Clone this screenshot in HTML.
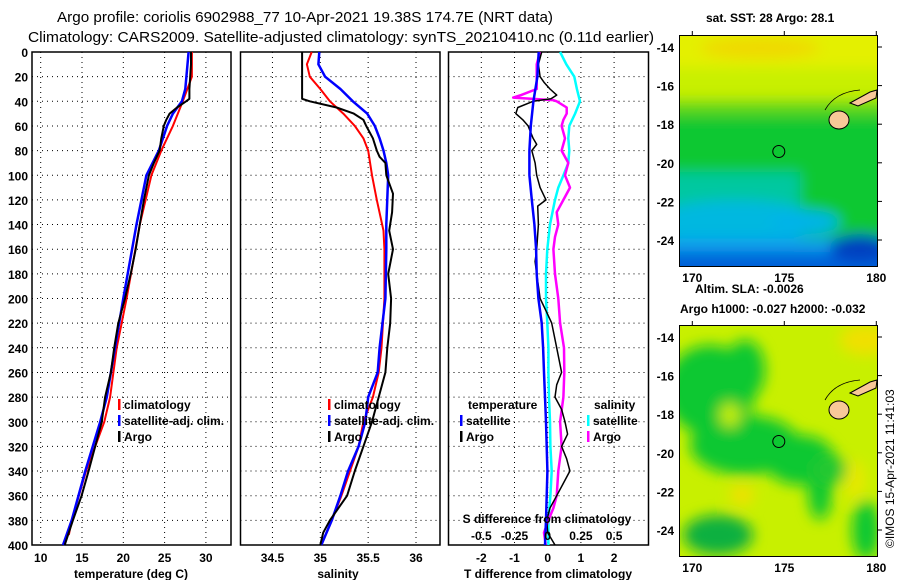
<!DOCTYPE html>
<html><head><meta charset="utf-8"><style>
html,body{margin:0;padding:0;background:#fff;}
svg{display:block;font-family:"Liberation Sans",sans-serif;}
.t{font-weight:bold;font-size:12px;fill:#000;}
</style></head><body>
<svg id="fig" width="900" height="580" viewBox="0 0 900 580" xmlns="http://www.w3.org/2000/svg">
<defs>
<filter id="blur6" x="-20%" y="-20%" width="140%" height="140%"><feGaussianBlur stdDeviation="7"/></filter>
<clipPath id="clipTop"><rect x="679" y="35" width="199" height="232"/></clipPath>
<clipPath id="clipBot"><rect x="679" y="325" width="199" height="232"/></clipPath>
</defs>
<text x="57" y="22" font-size="15" textLength="496" lengthAdjust="spacingAndGlyphs">Argo profile: coriolis 6902988_77 10-Apr-2021 19.38S 174.7E (NRT data)</text>
<text x="28" y="42" font-size="15" textLength="626" lengthAdjust="spacingAndGlyphs">Climatology: CARS2009. Satellite-adjusted climatology: synTS_20210410.nc (0.11d earlier)</text>

<g id="panels"></g>

<g>
<text x="706" y="22" class="t">sat. SST: 28 Argo: 28.1</text>
<g clip-path="url(#clipTop)">
<rect x="679" y="35" width="199" height="232" fill="#e4f000"/>
<g filter="url(#blur6)">
<rect x="650" y="68" width="260" height="40" fill="#c8f000"/>
<rect x="650" y="100" width="260" height="60" fill="#60d818"/>
<rect x="650" y="115" width="260" height="180" fill="#10c830"/>
<rect x="650" y="172" width="150" height="40" fill="#00c8a0"/>
<ellipse cx="735" cy="222" rx="85" ry="22" fill="#00b8e0"/>
<ellipse cx="805" cy="222" rx="35" ry="12" fill="#00b4e8"/>
<rect x="650" y="238" width="260" height="50" fill="#10a0ec"/>
<rect x="650" y="252" width="260" height="30" fill="#0060d8"/>
<ellipse cx="860" cy="248" rx="30" ry="14" fill="#0040c0"/>
<ellipse cx="760" cy="48" rx="60" ry="10" fill="#f0d800"/>
</g>
</g>
<rect x="679.5" y="35.5" width="198" height="231" fill="none" stroke="#000"/>
<ellipse cx="839" cy="120" rx="10" ry="9" fill="#f8c898" stroke="#000"/>
<path d="M850 103 L870 92 L877 90 L876 98 L858 106 Z" fill="#f8c898" stroke="#000"/>
<path d="M825 110 Q835 92 860 90" fill="none" stroke="#000" stroke-width="0.8"/>
<circle cx="778.8" cy="151.5" r="6" fill="none" stroke="#000"/>
</g>

<g>
<text x="695" y="293" class="t">Altim. SLA: -0.0026</text>
<text x="680" y="313" class="t">Argo h1000: -0.027 h2000: -0.032</text>
<g clip-path="url(#clipBot)">
<rect x="679" y="325" width="199" height="232" fill="#c8f000"/>
<g filter="url(#blur6)">
<ellipse cx="710" cy="390" rx="45" ry="45" fill="#10c830"/>
<ellipse cx="745" cy="370" rx="20" ry="30" fill="#10c830"/>
<ellipse cx="745" cy="445" rx="55" ry="30" fill="#10c830"/>
<ellipse cx="800" cy="460" rx="35" ry="25" fill="#10c830"/>
<ellipse cx="820" cy="490" rx="12" ry="30" fill="#10c830"/>
<ellipse cx="830" cy="470" rx="18" ry="15" fill="#20c830"/>
<ellipse cx="718" cy="535" rx="35" ry="20" fill="#10b040"/>
<ellipse cx="866" cy="530" rx="14" ry="30" fill="#10c830"/>
<ellipse cx="865" cy="340" rx="25" ry="15" fill="#f0e000"/>
<ellipse cx="742" cy="495" rx="12" ry="10" fill="#f0e000"/>
<ellipse cx="855" cy="480" rx="10" ry="20" fill="#e8e800"/>
<ellipse cx="730" cy="415" rx="10" ry="12" fill="#c8f000"/>
</g>
</g>
<rect x="679.5" y="325.5" width="198" height="231" fill="none" stroke="#000"/>
<ellipse cx="839" cy="410" rx="10" ry="9" fill="#f8c898" stroke="#000"/>
<path d="M850 393 L870 382 L877 380 L876 388 L858 396 Z" fill="#f8c898" stroke="#000"/>
<path d="M825 400 Q835 382 860 380" fill="none" stroke="#000" stroke-width="0.8"/>
<circle cx="778.8" cy="441.5" r="6" fill="none" stroke="#000"/>
</g>
<g id="maplabels"></g>
<text transform="translate(894,548) rotate(-90)" font-size="12">©IMOS 15-Apr-2021 11:41:03</text>
</svg>
<script>
// ---- data (depth in m) ----
const depthTicks = [0,20,40,60,80,100,120,140,160,180,200,220,240,260,280,300,320,340,360,380,400];
const tempTicks = [10,15,20,25,30];
const salTicks = [34.5,35,35.5,36];
const tdiffTicks = [-2,-1,0,1,2];
const sdiffTickLabels = [-0.5,-0.25,0,0.25,0.5];

const argoTDepth = [0,10,20,30,38,40,45,50,55,60,70,80,90,100,120,140,160,180,200,220,240,260,280,300,320,340,360,380,400];
const argoT =      [28.2,28.2,28.1,28.0,28.0,27.6,26.5,25.6,25.2,24.9,24.6,24.4,23.7,23.1,22.5,22.0,21.5,20.9,20.2,19.4,18.9,18.5,17.8,17.4,16.6,15.8,14.95,13.9,12.9];
const climTDepth = [0,20,40,60,80,100,140,200,240,280,300,340,380,392];
const climT =      [28.3,28.3,27.2,26.0,24.6,23.4,22.0,20.4,19.2,18.4,17.7,15.5,13.75,13.4];
const satTDepth =  [0,30,40,50,60,80,100,140,200,240,280,300,340,380,400];
const satT =       [27.9,27.5,27.1,26.0,25.3,24.3,22.8,21.6,20.0,19.0,18.0,17.2,15.4,13.75,12.7];

const argoSDepth = [0,38,40,45,50,55,60,70,80,85,90,100,115,130,145,160,180,200,220,240,260,280,300,320,340,360,380,390,400];
const argoS =      [34.81,34.81,34.89,35.17,35.35,35.45,35.48,35.55,35.59,35.62,35.68,35.69,35.76,35.75,35.72,35.76,35.71,35.74,35.73,35.70,35.68,35.61,35.54,35.45,35.36,35.28,35.10,35.03,35.0];
const climSDepth = [0,10,20,30,40,50,60,70,80,100,120,145,160,200,240,260,280,300,320,340,360,380,400];
const climS =      [34.91,34.86,34.89,35.0,35.10,35.24,35.36,35.45,35.50,35.54,35.59,35.66,35.67,35.67,35.64,35.61,35.55,35.45,35.40,35.31,35.22,35.12,35.01];
const satSDepth =  [0,10,20,30,40,50,60,70,80,90,100,140,160,200,240,260,280,300,320,340,360,380,400];
const satS =       [34.99,34.98,35.05,35.21,35.34,35.49,35.57,35.62,35.66,35.69,35.71,35.69,35.69,35.68,35.62,35.60,35.50,35.47,35.40,35.29,35.21,35.12,35.01];

const diffDepth = [0,10,20,25,30,35,38,40,45,50,55,60,70,75,80,90,100,110,120,125,140,160,170,180,200,210,220,240,260,270,280,290,300,310,320,330,340,350,360,370,380,390,400];
const argoTdiff = [-0.18,-0.28,-0.23,-0.1,0.07,0.27,0.1,-0.44,-0.9,-0.96,-0.75,-0.59,-0.44,-0.33,-0.48,-0.38,-0.33,-0.23,-0.05,-0.3,-0.28,-0.33,-0.38,-0.33,-0.23,-0.05,0.12,0.27,0.42,0.27,0.22,0.42,0.52,0.6,0.42,0.57,0.67,0.47,0.27,0.07,-0.03,0.0,0.22];
const satTDiffDepth = [0,20,40,60,80,100,120,140,160,180,200,220,240,260,280,300,320,340,360,380,400];
const satTdiff = [-0.27,-0.31,-0.43,-0.51,-0.55,-0.55,-0.48,-0.4,-0.35,-0.33,-0.28,-0.18,-0.14,-0.11,-0.08,-0.05,-0.03,-0.01,-0.03,-0.05,-0.08];
const satSDiffDepth = [0,10,20,30,40,50,60,70,80,90,100,110,120,140,160,180,200,220,240,260,280,300,320,340,360,380,400];
const satSdiff = [0.093,0.14,0.2,0.22,0.243,0.206,0.163,0.155,0.163,0.155,0.118,0.08,0.055,0.017,-0.003,-0.013,-0.013,-0.003,0.005,0.005,0.01,0.017,0.02,0.03,0.02,0.005,0.005];
const argoSDiffDepth = [0,10,20,30,35,37,39,40,45,50,55,60,70,80,90,100,110,120,130,140,150,160,180,200,220,240,260,280,300,320,340,360,370,380,390,400];
const argoSdiff = [-0.058,-0.083,-0.083,-0.083,-0.2,-0.26,0.04,0.068,0.143,0.143,0.118,0.105,0.13,0.105,0.155,0.13,0.168,0.118,0.068,0.08,0.055,0.043,0.055,0.08,0.093,0.123,0.125,0.118,0.093,0.105,0.08,0.068,0.043,0.005,-0.028,-0.015];

const latTicks = [-14,-16,-18,-20,-22,-24];
const lonTicks = [170,175,180];

// ---- scales ----
const Y0 = 52, PXM = 1.2325;
const y = d => Y0 + d*PXM;
const xT = v => 40.7 + (v-10)*8.26;
const xS = v => 320.3 + (v-35)*95.7;
const xTd = v => 547.7 + v*33.2;
const xSd = v => 547.7 + v*132.8;
const latY = (l, top) => top + 12 + (-14 - l)*19.3;
const lonX = l => 692.3 + (l-170)*18.4;

const NS = 'http://www.w3.org/2000/svg';
const root = document.getElementById('panels');
function mk(tag, attrs, parent){ const e=document.createElementNS(NS,tag); for(const k in attrs) e.setAttribute(k,attrs[k]); (parent||root).appendChild(e); return e; }

const panels = [
 {name:'temperature-panel', x0:32, x1:231, ticks:tempTicks, sx:xT, label:'temperature (deg C)', lx:131},
 {name:'salinity-panel', x0:240.5, x1:440, ticks:salTicks, sx:xS, label:'salinity', lx:338},
 {name:'difference-panel', x0:448.5, x1:648.5, ticks:tdiffTicks, sx:xTd, label:'T difference from climatology', lx:548}
];
panels.forEach(p=>{
  const g = mk('g',{});
  
  
  depthTicks.forEach(d=>{
    const l = mk('line',{x1:p.x0,x2:p.x1,y1:y(d),y2:y(d),stroke:'#000','stroke-width':1,'stroke-dasharray':'1 4'},g);
    
    
  });
  p.ticks.forEach(v=>{
    const l = mk('line',{x1:p.sx(v),x2:p.sx(v),y1:Y0,y2:545,stroke:'#000','stroke-width':1,'stroke-dasharray':'1 4'},g);
    
    
    const t = mk('text',{x:p.sx(v),y:562,'text-anchor':'middle',class:'t'},g);
    t.textContent = v;
    
    
  });
  const f = mk('rect',{x:p.x0,y:Y0,width:p.x1-p.x0,height:545-Y0,fill:'none',stroke:'#000','stroke-width':1.5},g);
  
  
  const xl = mk('text',{x:p.lx,y:578,'text-anchor':'middle',class:'t'},g);
  xl.textContent = p.label;
  
  
});
depthTicks.forEach(d=>{
  const t = mk('text',{x:28,y:y(d)+5,'text-anchor':'end',class:'t'});
  t.textContent = d;
  
  
});

function line(xs, ds, fx, color, w, name){
  const pts=[];
  for(let i=0;i!==xs.length;i++){
    pts.push(fx(xs[i]).toFixed(1)+','+y(ds[i]).toFixed(1));
  }
  const e = mk('polyline',{points:pts.join(' '),fill:'none',stroke:color,'stroke-width':w,'stroke-linejoin':'round'});
  
  
}
line(climT, climTDepth, xT, '#f00', 2, 'climatology-temperature-line');
line(satT, satTDepth, xT, '#00f', 2.5, 'satellite-temperature-line');
line(argoT, argoTDepth, xT, '#000', 2, 'argo-temperature-line');
line(climS, climSDepth, xS, '#f00', 2, 'climatology-salinity-line');
line(satS, satSDepth, xS, '#00f', 2.5, 'satellite-salinity-line');
line(argoS, argoSDepth, xS, '#000', 2, 'argo-salinity-line');
line(satSdiff, satSDiffDepth, xSd, '#0ff', 2.5, 'satellite-salinity-diff-line');
line(argoSdiff, argoSDiffDepth, xSd, '#f0f', 2.5, 'argo-salinity-diff-line');
line(argoTdiff, diffDepth, xTd, '#000', 1.5, 'argo-temperature-diff-line');
line(satTdiff, satTDiffDepth, xTd, '#00f', 2.5, 'satellite-temperature-diff-line');

const sdt = mk('text',{x:547,y:523,'text-anchor':'middle',class:'t'});
sdt.textContent='S difference from climatology';


sdiffTickLabels.forEach(v=>{
  const t = mk('text',{x:xSd(v).toFixed(1), y:540,'text-anchor':'middle',class:'t'});
  t.textContent = v;
  
  
});

function legend(x, yy, color, label, name){
  const r = mk('rect',{x:x,y:yy-10,width:2.5,height:11,fill:color});
  
  
  const t = mk('text',{x:x+6,y:yy,class:'t'});
  t.textContent = label;
  
  
}
[[118,'#f00','climatology'],[118,'#00f','satellite-adj. clim.'],[118,'#000','Argo']].forEach((l,i)=>legend(l[0],409+i*16,l[1],l[2],'legend-entry'));
[[328,'#f00','climatology'],[328,'#00f','satellite-adj. clim.'],[328,'#000','Argo']].forEach((l,i)=>legend(l[0],409+i*16,l[1],l[2],'legend-entry'));
const lt = mk('text',{x:468,y:409,class:'t'}); lt.textContent='temperature';


const ls = mk('text',{x:594,y:409,class:'t'}); ls.textContent='salinity';


legend(460,425,'#00f','satellite','legend-entry');
legend(460,441,'#000','Argo','legend-entry');
legend(587,425,'#0ff','satellite','legend-entry');
legend(587,441,'#f0f','Argo','legend-entry');

const ml = document.getElementById('maplabels');
[35,325].forEach(top=>{
  latTicks.forEach(l=>{
    const t = mk('text',{x:674,y:latY(l,top)+5,'text-anchor':'end',class:'t'},ml);
    t.textContent = l;
    
    
    const k = mk('line',{x1:878,x2:882,y1:latY(l,top),y2:latY(l,top),stroke:'#000'},ml);
    
    
  });
  lonTicks.forEach(l=>{
    const t = mk('text',{x:lonX(l),y:top+247,'text-anchor':'middle',class:'t'},ml);
    t.textContent = l;
    
    
    const k = mk('line',{x1:lonX(l),x2:lonX(l),y1:top-4,y2:top,stroke:'#000'},ml);
    
    
  });
});
</script>
</body></html>
